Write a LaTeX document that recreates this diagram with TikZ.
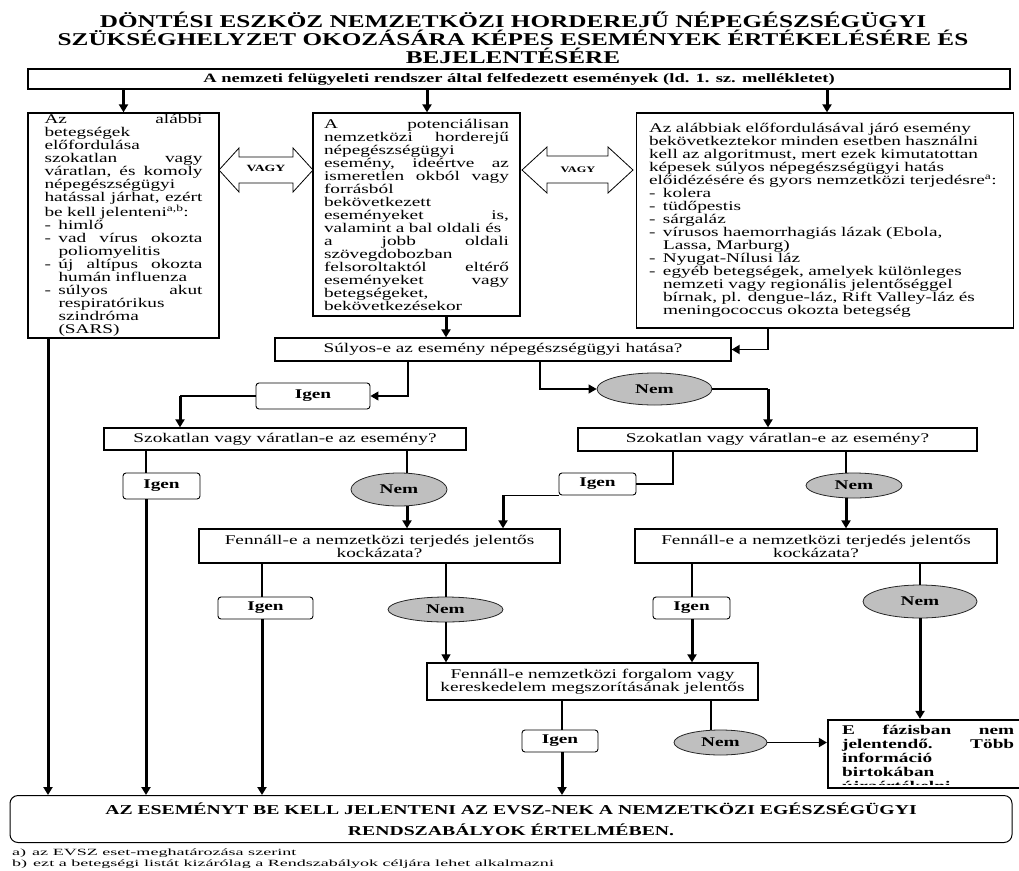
\documentclass[tikz,border=0pt]{standalone}
\usepackage{fontspec}
\setmainfont{Liberation Serif}[FakeStretch=1.45]
\newfontfamily\titlefont{Liberation Serif}[FakeStretch=1.4]
\newfontfamily\fnfont{Liberation Serif}[FakeStretch=1.9]
\usetikzlibrary{arrows.meta,shapes.geometric}
\definecolor{nemfill}{HTML}{BFBFBF}
\newcommand{\myDash}{\makebox[14pt][l]{-}}
\newcommand{\myInd}{\hspace*{14pt}}
\begin{document}
\begin{tikzpicture}[x=1pt,y=-1pt,
  every node/.style={font=\fontsize{13.3}{13}\selectfont},
  rbox/.style={draw, line width=1.3pt, inner sep=0pt, fill=white},
  para/.style={rbox, align=left, inner ysep=0pt},
  yes/.style={draw, line width=0.9pt, rounded corners=3pt, fill=white, inner sep=0pt, font=\fontsize{13.3}{13}\selectfont\bfseries},
  no/.style={ellipse, draw=black!85, line width=0.8pt, fill=nemfill, inner sep=0pt, font=\fontsize{13.3}{13}\selectfont\bfseries},
  ln/.style={line width=1.1pt},
  ln2/.style={line width=1.8pt},
  tk/.style={line width=3pt},
  arr/.style={-{Triangle[length=8pt,width=9pt]}},
  vagy/.style={line width=0.8pt, fill=white}
]
\useasboundingbox (0,0) rectangle (1019,870);

% title
\node[font=\titlefont\fontsize{18}{18}\selectfont\bfseries, align=center, inner sep=0pt] (title) at (513,37.5)
  {DÖNTÉSI ESZKÖZ NEMZETKÖZI HORDEREJŰ NÉPEGÉSZSÉGÜGYI\\SZÜKSÉGHELYZET OKOZÁSÁRA KÉPES ESEMÉNYEK ÉRTÉKELÉSÉRE ÉS\\BEJELENTÉSÉRE};

% top box
\node[rbox, minimum width=982pt, minimum height=20pt, font=\fontsize{12.8}{13}\selectfont\bfseries] (top) at (519,79)
  {A nemzeti felügyeleti rendszer által felfedezett események (ld. 1. sz. mellékletet)};

% left box
\node[para, text width=158pt, inner xsep=16.5pt, minimum height=225pt] (l) at (123.5,225.5) {%
Az\hfill alábbi\\
betegségek\\
előfordulása\\
szokatlan\hfill vagy\\
váratlan,\hfill és\hfill komoly\\
népegészségügyi\\
hatással\hfill járhat,\hfill ezért\\
be kell jelenteni\textsuperscript{a,b}:\\
\myDash himlő\\
\myDash vad\hfill vírus\hfill okozta\\
\myInd poliomyelitis\\
\myDash új\hfill altípus\hfill okozta\\
\myInd humán influenza\\
\myDash súlyos\hfill akut\\
\myInd respiratórikus\\
\myInd szindróma\\
\myInd (SARS)};

% middle box
\node[para, text width=185pt, inner xsep=11pt, minimum height=203pt] (m) at (416.5,214.5) {%
A\hfill potenciálisan\\
nemzetközi\hfill horderejű\\
népegészségügyi\\
esemény,\hfill ideértve\hfill az\\
ismeretlen\hfill okból\hfill vagy\\
forrásból\\
bekövetkezett\\
eseményeket\hfill is,\\
valamint a bal oldali és\\
a\hfill jobb\hfill oldali\\
szövegdobozban\\
felsoroltaktól\hfill eltérő\\
eseményeket\hfill vagy\\
betegségeket,\\
bekövetkezésekor};

% right box
\node[para, text width=352pt, inner xsep=12.5pt, minimum height=215pt] (r) at (825,220.5) {%
Az alábbiak előfordulásával járó esemény\\
bekövetkeztekor minden esetben használni\\
kell az algoritmust, mert ezek kimutatottan\\
képesek súlyos népegészségügyi hatás\\
előidézésére és gyors nemzetközi terjedésre\textsuperscript{a}:\\
\myDash kolera\\
\myDash tüdőpestis\\
\myDash sárgaláz\\
\myDash vírusos haemorrhagiás lázak (Ebola,\\
\myInd Lassa, Marburg)\\
\myDash Nyugat-Nílusi láz\\
\myDash egyéb betegségek, amelyek különleges\\
\myInd nemzeti vagy regionális jelentőséggel\\
\myInd bírnak, pl. dengue-láz, Rift Valley-láz és\\
\myInd meningococcus okozta betegség};

% VAGY double arrows
\draw[vagy] (219,170) -- (239,148) -- (239,157) -- (293,157) -- (293,148) -- (313,170)
  -- (293,192) -- (293,183) -- (239,183) -- (239,192) -- cycle;
\node[font=\fontsize{9.5}{9}\selectfont\bfseries] (vagy1) at (266,168) {VAGY};
\draw[vagy] (522,170) -- (547,147) -- (547,156) -- (608,156) -- (608,147) -- (633,170)
  -- (608,193) -- (608,183) -- (547,183) -- (547,193) -- cycle;
\node[font=\fontsize{8.5}{9}\selectfont\bfseries] (vagy2) at (578,170) {VAGY};

% decision boxes
\node[rbox, minimum width=456pt, minimum height=23pt] (sul) at (503,349.5) {Súlyos-e az esemény népegészségügyi hatása?};
\node[yes, minimum width=114pt, minimum height=26pt] (i1) at (313,396) {Igen};
\node[no, minimum width=115pt, minimum height=32pt] (n1) at (654.5,389) {Nem};
\node[rbox, minimum width=362pt, minimum height=22pt] (szL) at (285,439) {Szokatlan vagy váratlan-e az esemény?};
\node[rbox, minimum width=399pt, minimum height=23pt] (szR) at (777.5,439.5) {Szokatlan vagy váratlan-e az esemény?};
\node[yes, minimum width=77pt, minimum height=26pt] (i2) at (161.5,486) {Igen};
\node[no, minimum width=96pt, minimum height=33pt] (n2) at (399,489.5) {Nem};
\node[yes, minimum width=77pt, minimum height=22pt] (i2r) at (597.5,484) {Igen};
\node[no, minimum width=96pt, minimum height=25pt] (n2r) at (854,485.5) {Nem};
\node[rbox, align=center, minimum width=361pt, minimum height=34pt] (fen1) at (379.5,546) {Fennáll-e a nemzetközi terjedés jelentős\\kockázata?};
\node[rbox, align=center, minimum width=362pt, minimum height=34pt] (fen2) at (816,546) {Fennáll-e a nemzetközi terjedés jelentős\\kockázata?};
\node[yes, minimum width=95pt, minimum height=22pt] (i3) at (265.5,608) {Igen};
\node[no, minimum width=115pt, minimum height=25pt] (n3) at (445.5,609.5) {Nem};
\node[yes, minimum width=77pt, minimum height=22pt] (i4) at (691.5,608) {Igen};
\node[no, minimum width=114pt, minimum height=33pt] (n4) at (920,601.5) {Nem};
\node[rbox, align=center, minimum width=331pt, minimum height=37pt] (fen3) at (592.5,681.5) {Fennáll-e nemzetközi forgalom vagy\\kereskedelem megszorításának jelentős};
\node[yes, minimum width=76pt, minimum height=22pt] (i5) at (560,741) {Igen};
\node[no, minimum width=93pt, minimum height=25pt] (n5) at (720.5,742.5) {Nem};

% E fázisban box
\node[draw, line width=2.2pt, fill=white, minimum width=202pt, minimum height=68pt, inner sep=0pt] (efaz) at (929,754) {};
\begin{scope}
\clip (829,721) rectangle (1029,784);
\node[anchor=north west, inner sep=0pt, text width=172pt, align=left, font=\fontsize{13.3}{14}\selectfont\bfseries] (efazt) at (842,725)
  {E\hfill fázisban\hfill nem\\jelentendő.\hfill Több\\információ\\birtokában\\újraértékelni.};
\end{scope}

% bottom box
\node[draw, line width=1pt, rounded corners=8pt, minimum width=1002pt, minimum height=47pt, inner sep=0pt, align=center,
  font=\fontsize{13.6}{21}\selectfont\bfseries] (bot) at (511,819)
  {AZ ESEMÉNYT BE KELL JELENTENI AZ EVSZ-NEK A NEMZETKÖZI EGÉSZSÉGÜGYI\\RENDSZABÁLYOK ÉRTELMÉBEN.};

% footnotes
\node[anchor=west, inner sep=0pt, align=left, font=\fnfont\fontsize{9.5}{11}\selectfont] (fn) at (12,858.5)
  {a)\hspace{6pt}az EVSZ eset-meghatározása szerint\\b)\hspace{6pt}ezt a betegségi listát kizárólag a Rendszabályok céljára lehet alkalmazni};

% guides
\coordinate (g0) at (48,0);
\coordinate (gm) at (427,0);
\coordinate (gr) at (827,0);
\coordinate (gm2) at (446,0);
\coordinate (gr2) at (768,0);
\coordinate (gs1) at (408,0);
\coordinate (gs2) at (540,0);
\coordinate (k1) at (180,0);
\coordinate (k2) at (768,0);
\coordinate (g3) at (146,0);
\coordinate (g4) at (407,0);
\coordinate (g5) at (673,0);
\coordinate (k3) at (503,0);
\coordinate (g6) at (846,0);
\coordinate (g7) at (262,0);
\coordinate (g8) at (446,0);
\coordinate (g9) at (692,0);
\coordinate (g10) at (920,0);
\coordinate (g11) at (562,0);
\coordinate (g12) at (711,0);

% connectors
\draw[tk,arr] (top.south -| l.north) -- (l.north);
\draw[tk,arr] (top.south -| gm) -- (m.north -| gm);
\draw[tk,arr] (top.south -| gr) -- (r.north -| gr);
\draw[tk,arr] (m.south -| gm2) -- (sul.north -| gm2);
\draw[ln2,arr] (r.south -| gr2) |- (sul.east);
\draw[tk,arr] (l.south -| g0) -- (bot.north -| g0);

\draw[ln,arr] (sul.south -| gs1) |- (i1.east);
\draw[ln] (i1.west) -- (i1.west -| k1);
\draw[tk,arr] (i1.west -| k1) -- (szL.north -| k1);
\draw[ln,arr] (sul.south -| gs2) |- (n1.west);
\draw[ln] (n1.east) -- (n1.east -| k2);
\draw[tk,arr] (n1.east -| k2) -- (szR.north -| k2);

\draw[ln] (szL.south -| g3) -- (i2.north -| g3);
\draw[tk,arr] (i2.south -| g3) -- (bot.north -| g3);
\draw[ln] (szL.south -| g4) -- (n2.north -| g4);
\draw[tk,arr] (n2.south -| g4) -- (fen1.north -| g4);
\draw[ln] (szR.south -| g5) |- (i2r.east);
\draw[ln] (i2r.south west) -- (i2r.south west -| k3);
\draw[tk,arr] (i2r.south west -| k3) -- (fen1.north -| k3);
\draw[ln] (szR.south -| g6) -- (n2r.north -| g6);
\draw[tk,arr] (n2r.south -| g6) -- (fen2.north -| g6);

\draw[ln] (fen1.south -| g7) -- (i3.north -| g7);
\draw[tk,arr] (i3.south -| g7) -- (bot.north -| g7);
\draw[ln] (fen1.south -| g8) -- (n3.north -| g8);
\draw[ln,arr] (n3.south -| g8) -- (fen3.north -| g8);
\draw[ln] (fen2.south -| g9) -- (i4.north -| g9);
\draw[tk,arr] (i4.south -| g9) -- (fen3.north -| g9);
\draw[ln] (fen2.south -| g10) -- (n4.north -| g10);
\draw[tk,arr] (n4.south -| g10) -- (efaz.north -| g10);

\draw[ln] (fen3.south -| g11) -- (i5.north -| g11);
\draw[tk,arr] (i5.south -| g11) -- (bot.north -| g11);
\draw[ln] (fen3.south -| g12) -- (n5.north -| g12);
\draw[ln2,arr] (n5.east) -- (efaz.west |- n5.east);
\end{tikzpicture}
\end{document}
